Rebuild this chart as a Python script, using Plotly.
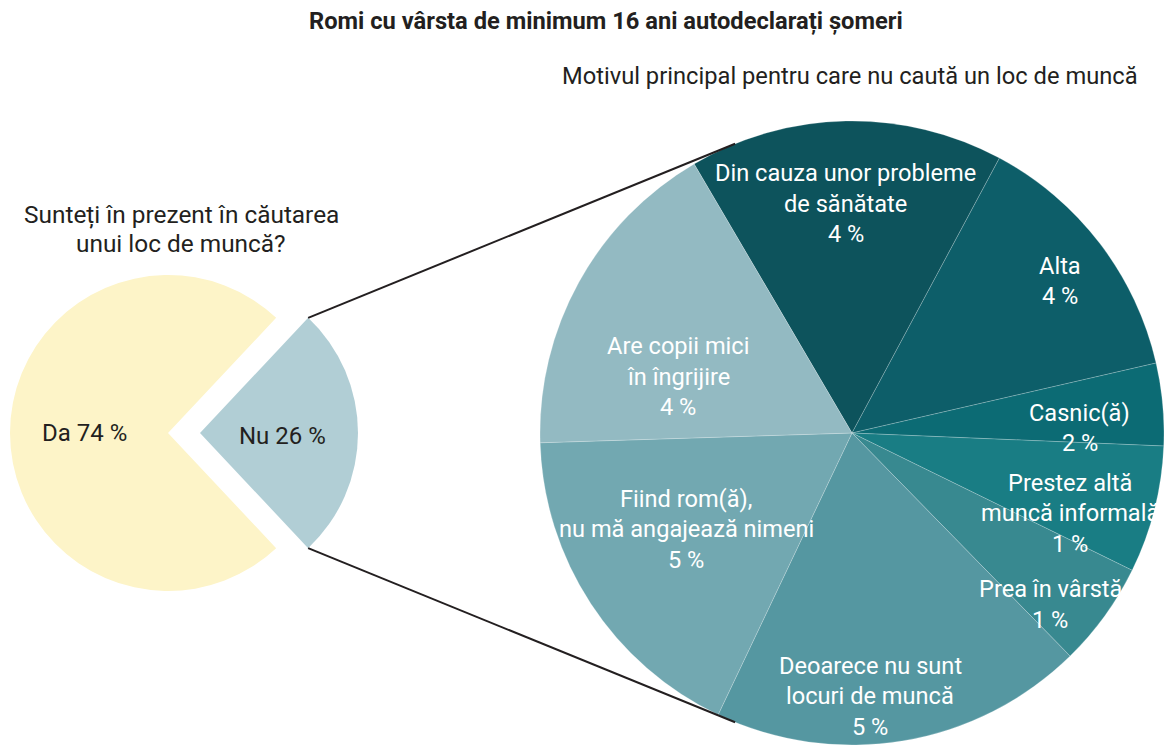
import math
import plotly.graph_objects as go

W, H = 1164, 747
FONT = "Roboto"
INK = "#231f20"

title = "Romi cu vârsta de minimum 16 ani autodeclarați șomeri"
right_title = "Motivul principal pentru care nu caută un loc de muncă"
question = ["Sunteți în prezent în căutarea", "unui loc de muncă?"]

# left pie: are you looking for a job?
answer_labels = ["Nu", "Da"]
answer_values = [26, 74]
answer_colors = ["#b1ced5", "#fdf4c8"]

# right pie: main reason for not looking (share of all, in %)
reason_lines = [
    ["Din cauza unor probleme", "de sănătate"],
    ["Alta"],
    ["Casnic(ă)"],
    ["Prestez altă", "muncă informală"],
    ["Prea în vârstă"],
    ["Deoarece nu sunt", "locuri de muncă"],
    ["Fiind rom(ă),", "nu mă angajează nimeni"],
    ["Are copii mici", "în îngrijire"],
]
reason_pct = [4, 4, 2, 1, 1, 5, 5, 4]
reason_values = [4.2, 3.5, 1.1, 1.7, 1.4, 5.0, 4.5, 4.4]
reason_colors = ["#0d535c", "#0d5e69", "#0c6b74", "#197d84", "#388990",
                 "#5597a1", "#72a8b1", "#93bac2"]


# geometry in window pixels (page margin is removed below)
def px_domain(cx, cy, r):
    return dict(x=[max(0, (cx - r) / W), min(1, (cx + r) / W)],
                y=[max(0, 1 - (cy + r) / H), min(1, 1 - (cy - r) / H)])


def to_paper(x, y):
    return x / W, 1 - y / H


def polar(cx, cy, r, ang):
    a = math.radians(ang)
    return cx + r * math.sin(a), cy - r * math.cos(a)


fig = go.Figure()

# left pie geometry
L_CX, L_CY, L_R = 168, 433, 158
PULL_PX = 32
nu_start = 90 - answer_values[0] / sum(answer_values) * 180

# "Da" part
fig.add_trace(go.Pie(
    labels=answer_labels, values=answer_values, sort=False, direction="clockwise",
    rotation=nu_start, marker=dict(colors=["rgba(0,0,0,0)", answer_colors[1]], line=dict(width=0)),
    textinfo="none", hoverinfo="label+percent", domain=px_domain(L_CX, L_CY, L_R),
))
# "Nu" part, pulled out to the right
fig.add_trace(go.Pie(
    labels=answer_labels, values=answer_values, sort=False, direction="clockwise",
    rotation=nu_start, marker=dict(colors=[answer_colors[0], "rgba(0,0,0,0)"], line=dict(width=0)),
    textinfo="none", hoverinfo="label+percent", domain=px_domain(L_CX + PULL_PX, L_CY, L_R),
))

# right pie, touching the right edge
R_CX, R_CY, R_R = 852, 433, 312
r_start = -30.4
fig.add_trace(go.Pie(
    labels=[" ".join(l) for l in reason_lines], values=reason_values, sort=False,
    direction="clockwise", rotation=r_start,
    marker=dict(colors=reason_colors, line=dict(color="rgba(255,255,255,0.35)", width=0.6)),
    textinfo="none", hoverinfo="label", domain=px_domain(R_CX, R_CY, R_R),
))

annotations = []


def add_block(lines, x, y, size, color, gap, bold=False):
    n = len(lines)
    for i, t in enumerate(lines):
        yy = y + (i - (n - 1) / 2) * gap
        px_, py_ = to_paper(x, yy)
        annotations.append(dict(
            x=px_, y=py_, xref="paper", yref="paper", text=f"<b>{t}</b>" if bold else t,
            showarrow=False, xanchor="center", yanchor="middle",
            font=dict(family=FONT, size=size, color=color)))


# labels of right pie
label_r = [0.735, 0.825, 0.73, 0.745, 0.84, 0.845, 0.615, 0.585]
label_da = [-0.5, 1.2, 4, 6, 5, 5.5, 3, -11]
total = sum(reason_values)
ang = r_start
for lines, pct, v, rf, da in zip(reason_lines, reason_pct, reason_values, label_r, label_da):
    span = v / total * 360
    mid = ang + span / 2 + da
    x, y = polar(R_CX, R_CY, R_R * rf, mid)
    add_block(lines + [f"{pct} %"], x, y, 23.6, "white", 30.5)
    ang += span

# labels of left pie
add_block([f"Da {answer_values[1]} %"], L_CX - 0.53 * L_R, L_CY, 24, INK, 30)
add_block([f"Nu {answer_values[0]} %"], L_CX + PULL_PX + 0.52 * L_R, L_CY + 3, 24, INK, 30)

# titles
add_block([title], 606, 21, 23.7, INK, 30, bold=True)
add_block([right_title], 850, 76, 23.7, INK, 30)
add_block(question, 181, 229, 24.4, INK, 29)

# connector lines from the pulled slice to the big pie
nu_end = nu_start + answer_values[0] / sum(answer_values) * 360
shapes = []
for a_left, a_right in [(nu_start, -22), (nu_end, 202)]:
    x0, y0 = polar(L_CX + PULL_PX, L_CY, L_R, a_left)
    x1, y1 = polar(R_CX, R_CY, R_R, a_right)
    p0, p1 = to_paper(x0, y0), to_paper(x1, y1)
    shapes.append(dict(type="line", xref="paper", yref="paper", x0=p0[0], y0=p0[1],
                       x1=p1[0], y1=p1[1], line=dict(color=INK, width=2)))

fig.update_layout(
    width=W, height=H, margin=dict(l=0, r=0, t=0, b=0),
    paper_bgcolor="white", plot_bgcolor="white", showlegend=False,
    annotations=annotations, shapes=shapes,
)

# drop the default page margin so the figure fills the window exactly
fig.write_html("out.html", config={"displayModeBar": False},
               post_script="document.body.style.margin='0';"
                           "document.documentElement.style.overflow='hidden';")
